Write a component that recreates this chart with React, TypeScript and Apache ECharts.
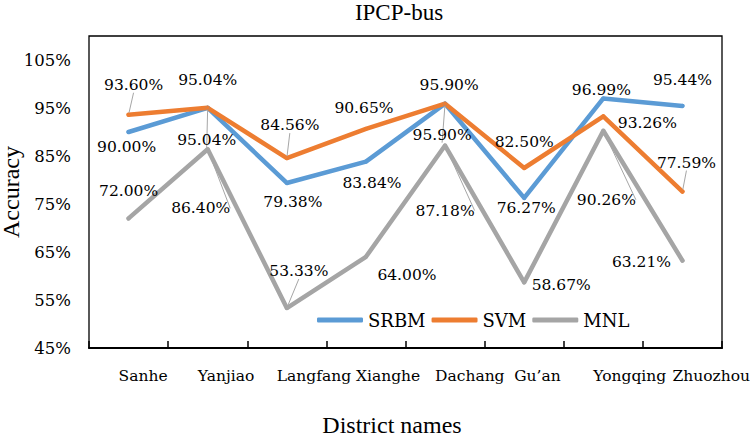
import React, { useEffect, useRef } from "react";
import * as echarts from "echarts";

const categories = ["Sanhe", "Yanjiao", "Langfang", "Xianghe", "Dachang", "Gu\u2019an", "Yongqing", "Zhuozhou"];
const seriesNames = ["SRBM", "SVM", "MNL"];
const srbmValues = [90.0, 95.04, 79.38, 83.84, 95.9, 76.27, 96.99, 95.44];
const svmValues = [93.6, 95.04, 84.56, 90.65, 95.9, 82.5, 93.26, 77.59];
const mnlValues = [72.0, 86.4, 53.33, 64.0, 87.18, 58.67, 90.26, 63.21];
const yTickLabels = ["45%", "55%", "65%", "75%", "85%", "95%", "105%"];

// label placement (style only)
const srbmLabelOffsets = [[-2, 15], [-1, 32], [6, 19], [6, 21], [-3, 31], [2, 10], [-2, -8], [0, -26]];
const svmLabelOffsets = [[5, -30], [0, -28], [3, -33], [-2, -21], [4, -19], [0, -26], [44, 7], [4, -29]];
const mnlLabelOffsets = [[0, -27], [-7, 59], [12, -37], [41, 18], [0, 65], [37, 3], [3, 69], [-41, 1]];
const srbmLeaders = [false, true, false, false, true, false, false, false];
const svmLeaders = [true, false, true, false, false, false, false, true];
const mnlLeaders = [false, true, true, false, true, false, true, false];

const colors = ["#5B9BD5", "#ED7D31", "#A5A5A5"];
const FONT_BIG = "Liberation Serif";
const FONT = "DejaVu Serif";

function buildSeries(name: string, values: number[], offsets: number[][], leaders: boolean[], color: string) {
  return {
    name,
    type: "line",
    data: values.map((v, i) => ({
      value: v,
      label: { offset: offsets[i] },
      labelLine: { show: leaders[i] },
    })),
    symbol: "circle",
    symbolSize: 4,
    itemStyle: { color },
    lineStyle: { color, width: 4.5, cap: "round", join: "round" },
    label: {
      show: true,
      position: "inside",
      formatter: (p: any) => Number(p.value).toFixed(2) + "%",
      fontFamily: FONT,
      fontWeight: "normal",
      fontSize: 15.5,
      color: "#000",
    },
    labelLine: { show: false, lineStyle: { color: "#A6A6A6", width: 1 } },
    emphasis: { disabled: true },
  };
}

export default function App() {
  const ref = useRef<HTMLDivElement>(null);
  useEffect(() => {
    if (!ref.current) return;
    const chart = echarts.init(ref.current, null, { renderer: "svg" });
    chart.setOption({
      animation: false,
      backgroundColor: "#fff",
      textStyle: { fontFamily: FONT, fontWeight: "normal", color: "#000" },
      title: {
        text: "IPCP-bus",
        left: 399,
        textAlign: "center",
        top: 1,
        padding: 0,
        textStyle: { fontFamily: FONT_BIG, fontSize: 23, lineHeight: 23, fontWeight: "normal", color: "#000" },
      },
      legend: {
        data: seriesNames,
        left: 317,
        top: 311,
        padding: 0,
        itemWidth: 46,
        itemHeight: 5,
        itemGap: 6,
        icon: "roundRect",
        textStyle: { fontFamily: FONT, fontWeight: "normal", fontSize: 18, color: "#000" },
      },
      grid: {
        left: 89,
        right: 28,
        top: 36,
        bottom: 90,
        outerBoundsMode: "none",
        containLabel: false,
        show: true,
        borderColor: "#000",
        borderWidth: 1.3,
        backgroundColor: "transparent",
      },
      xAxis: {
        type: "category",
        data: categories,
        boundaryGap: true,
        name: "District names",
        nameLocation: "middle",
        nameMoveOverlap: false,
        nameGap: 68,
        nameTextStyle: { fontFamily: FONT_BIG, fontWeight: "normal", fontSize: 24, lineHeight: 18, color: "#000", padding: [0, 27, 0, 0] },
        axisLine: { show: true, lineStyle: { color: "#000", width: 2 } },
        axisTick: { show: true, inside: true, length: 7, alignWithLabel: false, lineStyle: { color: "#000", width: 1.5 } },
        axisLabel: {
          interval: 0,
          hideOverlap: false,
          align: "left",
          padding: [0, 0, 0, -10],
          margin: 20,
          fontFamily: FONT,
          fontWeight: "normal",
          fontSize: 15.5,
          color: "#000",
        },
        splitLine: { show: false },
      },
      yAxis: {
        type: "value",
        min: 45,
        max: 110,
        interval: 5,
        name: "Accuracy",
        nameLocation: "middle",
        nameMoveOverlap: false,
        nameGap: 66,
        nameTextStyle: { fontFamily: FONT_BIG, fontWeight: "normal", fontSize: 24, lineHeight: 24, color: "#000" },
        axisLine: { show: false },
        axisTick: { show: false },
        splitLine: { show: false },
        axisLabel: {
          margin: 18,
          padding: [20, 0, 0, 0],
          fontFamily: FONT,
          fontWeight: "normal",
          fontSize: 16.5,
          color: "#000",
          formatter: (v: number) => {
            const s = Math.round(v) + "%";
            return yTickLabels.indexOf(s) >= 0 ? s : "";
          },
        },
      },
      series: [
        buildSeries(seriesNames[0], srbmValues, srbmLabelOffsets, srbmLeaders, colors[0]),
        buildSeries(seriesNames[1], svmValues, svmLabelOffsets, svmLeaders, colors[1]),
        buildSeries(seriesNames[2], mnlValues, mnlLabelOffsets, mnlLeaders, colors[2]),
      ],
    });
    return () => chart.dispose();
  }, []);
  return (
    <div
      ref={ref}
      style={{ position: "fixed", left: 0, top: 0, width: 750, height: 438, background: "#fff" }}
    />
  );
}
